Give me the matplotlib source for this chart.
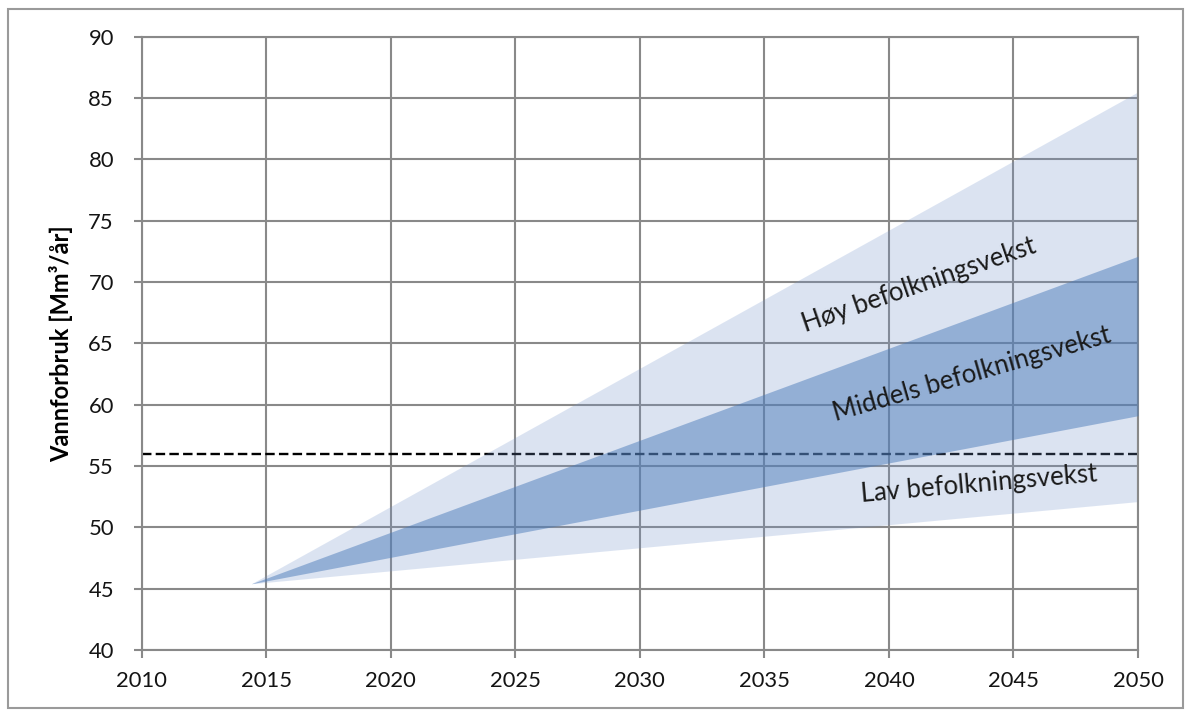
import matplotlib
matplotlib.use("Agg")
import matplotlib.pyplot as plt
from matplotlib.patches import Rectangle

# ---- data ----
years = [2014.4, 2050]
high = [45.4, 85.5]        # Høy befolkningsvekst (upper edge)
mid_upper = [45.4, 72.1]   # Middels band upper edge
mid_lower = [45.4, 59.1]   # Middels band lower edge
low = [45.4, 52.1]         # Lav befolkningsvekst (lower edge)
threshold = 56
xticks = [2010, 2015, 2020, 2025, 2030, 2035, 2040, 2045, 2050]
yticks = [40, 45, 50, 55, 60, 65, 70, 75, 80, 85, 90]
ylabel = "Vannforbruk [Mm³/år]"
labels = ["Høy befolkningsvekst", "Middels befolkningsvekst", "Lav befolkningsvekst"]

plt.rcParams['font.family'] = ['Lato', 'DejaVu Sans']

fig = plt.figure(figsize=(11.92, 7.11), dpi=100)
ax = fig.add_axes([0.1189, 0.0858, 0.8358, 0.8626])

grid_c = '#898989'
ax.set_xlim(2010, 2050)
ax.set_ylim(40, 90)
ax.set_xticks(xticks)
ax.set_yticks(yticks)
ax.grid(True, color=grid_c, linewidth=1.5, zorder=0)
ax.set_axisbelow(True)
for s in ax.spines.values():
    s.set_color(grid_c)
    s.set_linewidth(1.5)
ax.tick_params(axis='both', colors=grid_c, length=6, width=1.5, labelsize=15.8,
               labelcolor='#141414')
ax.tick_params(axis='y', pad=14)
ax.tick_params(axis='x', pad=9)

ax.axhline(threshold, color='black', linestyle=(0, (4, 1.8)), linewidth=1.7, zorder=1)

ax.fill_between(years, low, high, color='#7393CB', alpha=0.25, linewidth=0, zorder=2)
ax.fill_between(years, mid_lower, mid_upper, color='#4D7CBA', alpha=0.5, linewidth=0, zorder=3)

ax.set_ylabel(ylabel, fontsize=17, fontweight='bold', labelpad=11)

txt_c = '#1a1a1a'
ax.text(2041.2, 69.7, labels[0], rotation=19, fontsize=18.5, color=txt_c,
        ha='center', va='center', rotation_mode='anchor', zorder=5)
ax.text(2043.35, 62.5, labels[1], rotation=16, fontsize=18.5, color=txt_c,
        ha='center', va='center', rotation_mode='anchor', zorder=5)
ax.text(2043.6, 53.5, labels[2], rotation=5, fontsize=18.5, color=txt_c,
        ha='center', va='center', rotation_mode='anchor', zorder=5)

fig.patches.append(Rectangle((8/1192, 3/711), 1175/1192, 699/711, transform=fig.transFigure,
                             fill=False, edgecolor='#9a9a9a', linewidth=1.5))

fig.savefig('out.png', dpi=100)
